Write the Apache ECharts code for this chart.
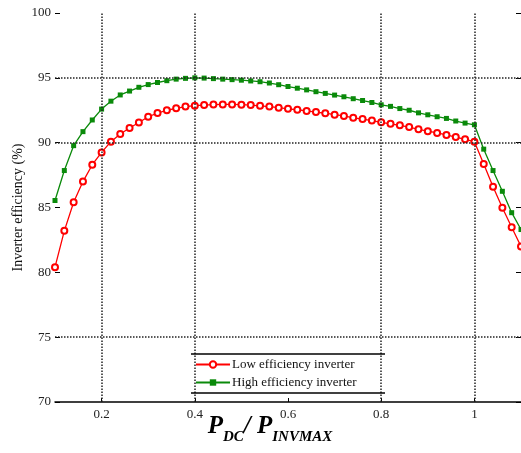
<!DOCTYPE html>
<html><head><meta charset="utf-8">
<script src="https://cdn.jsdelivr.net/npm/echarts@6/dist/echarts.min.js"></script>
<style>html,body{margin:0;padding:0;background:#fff}#c{width:521px;height:453px}</style>
</head><body><div id="c"></div>
<script>
const xValues = [0.10,0.12,0.14,0.16,0.18,0.20,0.22,0.24,0.26,0.28,0.30,0.32,0.34,0.36,0.38,0.40,0.42,0.44,0.46,0.48,0.50,0.52,0.54,0.56,0.58,0.60,0.62,0.64,0.66,0.68,0.70,0.72,0.74,0.76,0.78,0.80,0.82,0.84,0.86,0.88,0.90,0.92,0.94,0.96,0.98,1.00,1.02,1.04,1.06,1.08,1.10];
const lowEff = [80.4,83.2,85.4,87.0,88.3,89.25,90.08,90.67,91.13,91.56,92.0,92.28,92.5,92.65,92.78,92.85,92.9,92.94,92.95,92.95,92.93,92.9,92.84,92.78,92.7,92.61,92.54,92.45,92.36,92.27,92.16,92.06,91.92,91.82,91.7,91.57,91.45,91.34,91.2,91.03,90.89,90.75,90.6,90.43,90.26,90.08,88.36,86.6,84.98,83.48,82.0];
const highEff = [85.54,87.85,89.77,90.85,91.75,92.59,93.2,93.68,93.98,94.27,94.48,94.64,94.78,94.9,94.96,95.0,94.98,94.94,94.9,94.86,94.82,94.76,94.7,94.6,94.47,94.33,94.2,94.07,93.93,93.8,93.67,93.54,93.39,93.25,93.1,92.92,92.8,92.63,92.5,92.3,92.15,92.0,91.87,91.67,91.51,91.38,89.5,87.85,86.25,84.6,83.3];
const xTickLabels = [0.2,0.4,0.6,0.8,1.0];
const xGridValues = [0.2,0.4,0.8,1.0];
const yGridValues = [95,90,75];
const seriesNames = ['Low efficiency inverter','High efficiency inverter'];

const font = 'Liberation Serif';
const chart = echarts.init(document.getElementById('c'));
const pair = (ys) => xValues.map((x,i)=>[x, ys[i]]);
const grid = {type:'dotted', color:'#222', width:1.5};
chart.setOption({
  animation:false,
  grid:{left:55, right:0, top:13, bottom:51, outerBoundsMode:'none', containLabel:false},
  legend:{
    data:seriesNames, orient:'vertical', left:193, top:356,
    itemWidth:34, itemHeight:8, itemGap:5,
    padding:[2,30,2,2], backgroundColor:'#fff',
    textStyle:{fontFamily:font, fontSize:13, color:'#111', padding:[0,0,0,-3]}
  },
  xAxis:{
    type:'value', min:0.1, max:1.1,
    axisLine:{lineStyle:{color:'#000', width:1.5}},
    axisTick:{inside:true, length:4, customValues:xTickLabels, lineStyle:{color:'#000'}},
    axisLabel:{customValues:xTickLabels, fontFamily:font, fontSize:13, color:'#222', margin:6},
    splitLine:{show:false},
    name:'{p|P}{s|DC}{p|/ P}{s|INVMAX}', nameLocation:'middle', nameGap:7, nameMoveOverlap:false,
    nameTextStyle:{padding:[0,36,0,0], rich:{
      p:{fontFamily:font, fontSize:25, fontWeight:'bold', fontStyle:'italic', color:'#000', lineHeight:26, verticalAlign:'middle'},
      s:{fontFamily:font, fontSize:15, fontWeight:'bold', fontStyle:'italic', color:'#000', lineHeight:36, verticalAlign:'bottom'}
    }}
  },
  yAxis:[{
    type:'value', min:70, max:100, interval:5,
    axisLine:{show:false},
    axisTick:{show:true, inside:true, length:5, lineStyle:{color:'#000'}},
    axisLabel:{fontFamily:font, fontSize:13, color:'#222', margin:4},
    splitLine:{show:false},
    name:'Inverter efficiency (%)', nameLocation:'middle', nameGap:30, nameMoveOverlap:false,
    nameTextStyle:{fontFamily:font, fontSize:14, color:'#111'}
  },{
    type:'value', min:70, max:100, interval:5, position:'right',
    axisLine:{show:false},
    axisTick:{show:true, inside:true, length:5, lineStyle:{color:'#000'}},
    axisLabel:{show:false}, splitLine:{show:false}
  }],
  series:[
    {type:'line', name:'grid', data:[], z:1, silent:true,
     markLine:{silent:true, symbol:'none', label:{show:false}, lineStyle:grid,
       data:[...xGridValues.map(v=>({xAxis:v})), ...yGridValues.map(v=>({yAxis:v}))]}},
    {type:'line', name:seriesNames[0], data:pair(lowEff), z:3,
     color:'#ff0000', lineStyle:{width:1.3}, symbol:'emptyCircle', symbolSize:6,
     itemStyle:{borderWidth:1}},
    {type:'line', name:seriesNames[1], data:pair(highEff), z:4,
     color:'#0a8a0a', lineStyle:{width:1.3}, symbol:'rect', symbolSize:5}
  ],
  graphic:[
    {type:'line', shape:{x1:191, y1:354, x2:385, y2:354}, style:{stroke:'#000', lineWidth:1.5}, z:100},
    {type:'line', shape:{x1:191, y1:393, x2:385, y2:393}, style:{stroke:'#000', lineWidth:1.5}, z:100}
  ]
});
</script></body></html>
